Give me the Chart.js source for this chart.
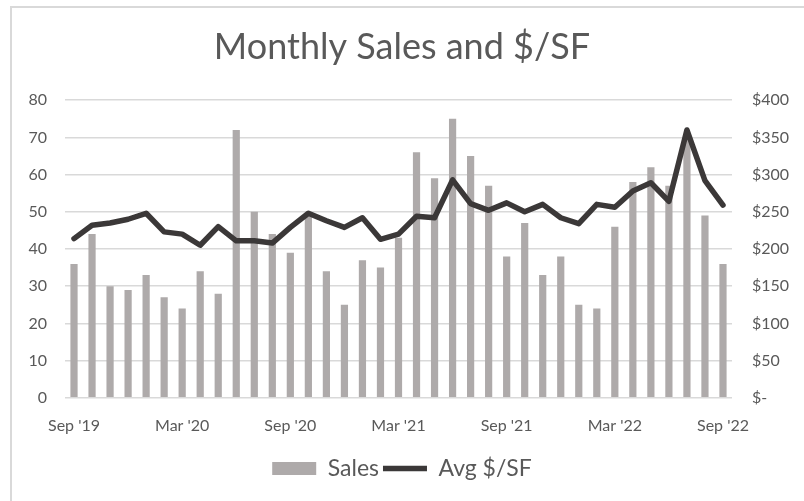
<!DOCTYPE html>
<html>
<head>
<meta charset="utf-8">
<script src="https://cdn.jsdelivr.net/npm/chart.js@4/dist/chart.umd.min.js"></script>
<style>
  html, body { margin: 0; padding: 0; background: #fff; }
  #wrap { position: relative; width: 804px; height: 501px; }
  #frame { position: absolute; left: 10px; top: 6px; right: -10px; bottom: -10px;
           border-left: 2px solid #d9d9d9; border-top: 2px solid #d9d9d9; }
  canvas { position: absolute; left: 0; top: 0; }
</style>
</head>
<body>
<div id="wrap">
  <div id="frame"></div>
  <canvas id="salesChart" width="804" height="501"></canvas>
</div>
<script>
var months = ['Sep', 'Oct', 'Nov', 'Dec', 'Jan', 'Feb', 'Mar', 'Apr', 'May', 'Jun', 'Jul', 'Aug'];
var labels = [];
for (var i = 0; i < 37; i++) {
    var yr = 2019 + Math.floor((8 + i) / 12);
    labels.push(months[i % 12] + " '" + String(yr).slice(2));
}
var sales = [36, 44, 30, 29, 33, 27, 24, 34, 28, 72, 50, 44, 39, 49, 34, 25, 37, 35, 43, 66,
             59, 75, 65, 57, 38, 47, 33, 38, 25, 24, 46, 58, 62, 57, 70, 49, 36];
var avgPerSF = [214, 232, 235, 240, 248, 223, 220, 205, 230, 211, 211, 208, 229, 248, 238, 229, 242, 213, 220, 244,
                242, 293, 261, 252, 262, 250, 260, 242, 234, 260, 256, 278, 289, 264, 360, 292, 259];

var textColor = '#595959';
var font = 'Lato';

var ctx = document.getElementById('salesChart').getContext('2d');
var chart = new Chart(ctx, {
    data: {
        labels: labels,
        datasets: [{
            type: 'bar',
            label: 'Sales',
            data: sales,
            backgroundColor: '#aeaaaa',
            barPercentage: 0.4,
            categoryPercentage: 1,
            pointStyle: 'rect',
            yAxisID: 'y',
            order: 1
        }, {
            type: 'line',
            label: 'Avg $/SF',
            data: avgPerSF,
            borderColor: '#3b3838',
            backgroundColor: '#3b3838',
            borderWidth: 5.5,
            borderCapStyle: 'round',
            borderJoinStyle: 'round',
            pointStyle: 'line',
            pointRadius: 0,
            tension: 0,
            yAxisID: 'y1',
            order: 0
        }]
    },
    options: {
        responsive: false,
        animation: false,
        layout: { padding: { left: 0, right: 0, top: 6, bottom: 11 } },
        plugins: {
            title: {
                display: true,
                text: 'Monthly Sales and $/SF',
                color: textColor,
                font: { family: font, size: 36, weight: 'normal' },
                padding: { top: 20, bottom: 31 }
            },
            legend: {
                position: 'bottom',
                labels: {
                    usePointStyle: true,
                    pointStyleWidth: 44,
                    boxHeight: 13,
                    color: textColor,
                    font: { family: font, size: 23 },
                    padding: 4,
                    sort: function (a, b) { return a.datasetIndex - b.datasetIndex; }
                }
            },
            tooltip: { enabled: false }
        },
        scales: {
            x: {
                grid: { display: false, drawTicks: false },
                border: { display: false },
                ticks: {
                    color: textColor,
                    font: { family: font, size: 16 },
                    autoSkip: false,
                    maxRotation: 0,
                    padding: 18,
                    callback: function (v, i) { return i % 6 === 0 ? labels[i] : ''; }
                }
            },
            y: {
                position: 'left',
                min: 0, max: 80,
                afterFit: function (s) { s.width = 65; },
                grid: { color: '#d9d9d9', lineWidth: 1.5, drawTicks: false },
                border: { display: false },
                ticks: {
                    stepSize: 10,
                    color: textColor,
                    font: { family: font, size: 16 },
                    padding: 18
                }
            },
            y1: {
                position: 'right',
                min: 0, max: 400,
                afterFit: function (s) { s.width = 72; },
                grid: { display: false, drawTicks: false },
                border: { display: false },
                ticks: {
                    stepSize: 50,
                    color: textColor,
                    font: { family: font, size: 16 },
                    padding: 20,
                    callback: function (v) { return v === 0 ? '$-' : '$' + v; }
                }
            }
        }
    }
});
</script>
</body>
</html>
